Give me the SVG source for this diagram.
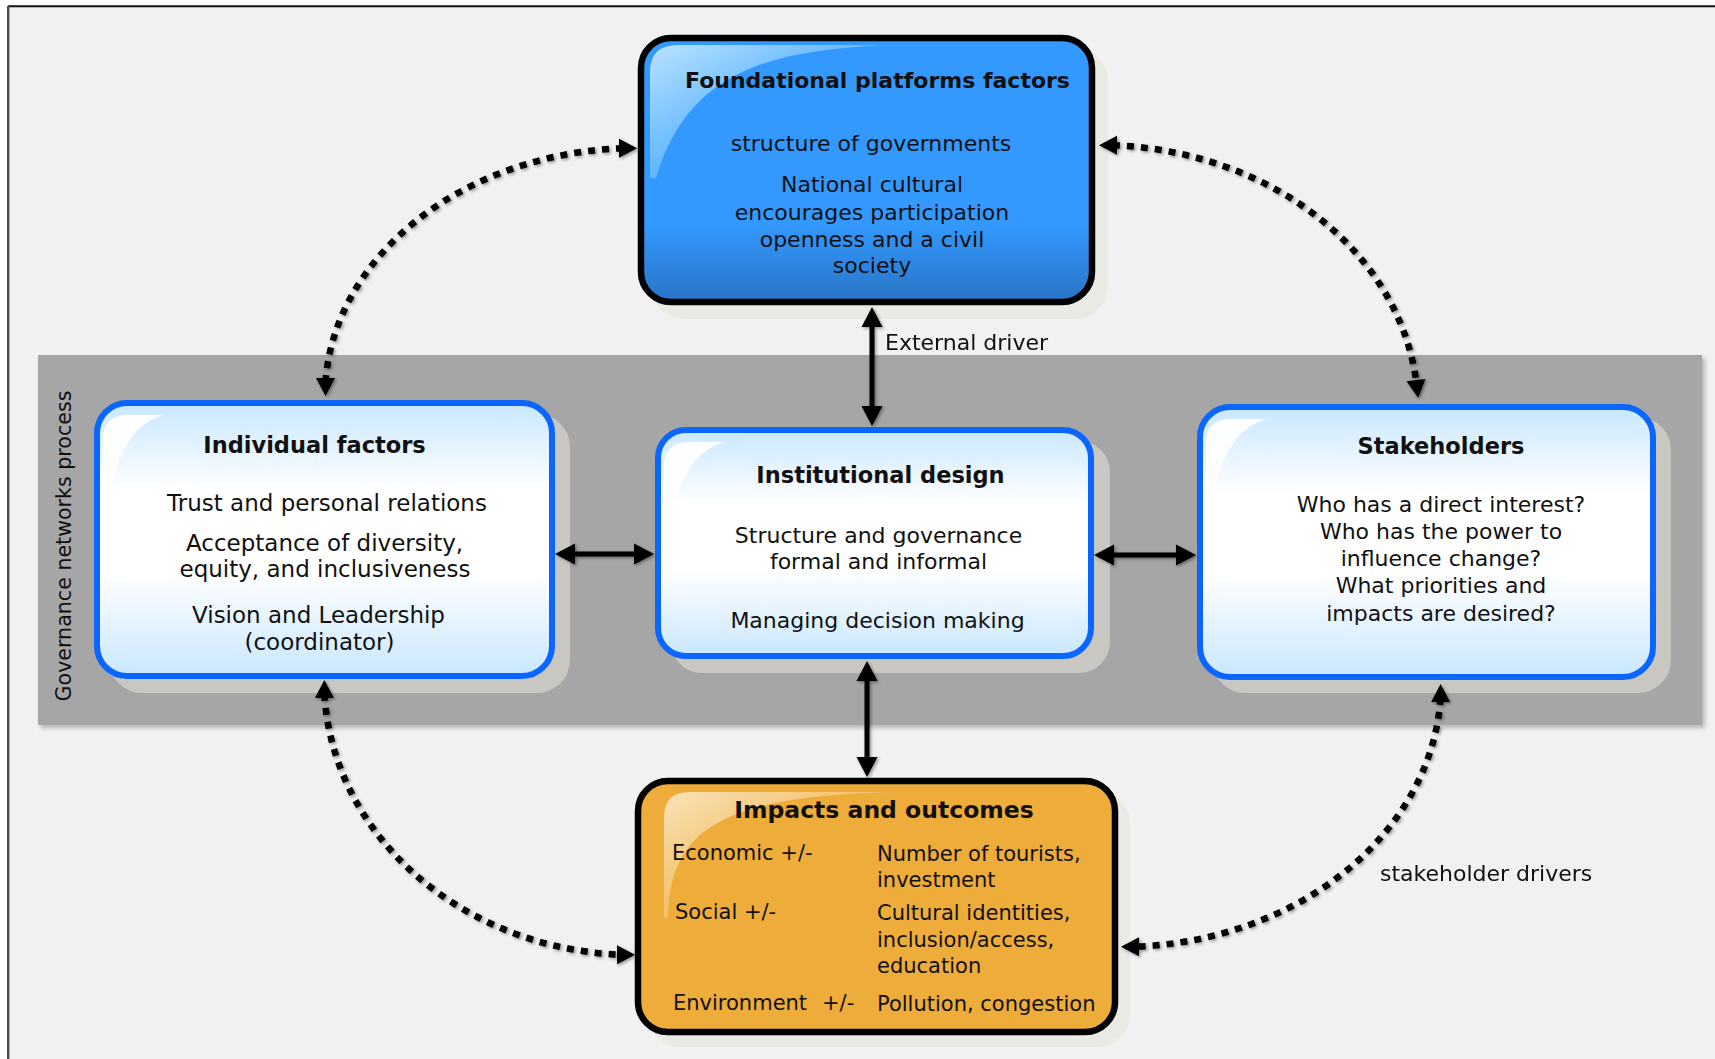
<svg xmlns="http://www.w3.org/2000/svg" xmlns:xlink="http://www.w3.org/1999/xlink" width="1715" height="1059" viewBox="0 0 1715 1059">
  <defs>
    <style>
      text { font-family: "DejaVu Sans", Verdana, sans-serif; fill: #111; }
      .body { font-size: 22px; text-anchor: middle; }
      .body23 { font-size: 23px; text-anchor: middle; }
      .title { font-size: 22.5px; font-weight: bold; text-anchor: middle; }
      .cell { font-size: 21px; }
      .label { font-size: 22px; }
      .blue { fill: url(#blueFill); stroke: #0a66ff; stroke-width: 6; }
      .shadow { fill: #c9c7c1; }
      .softShadow { fill: #eaeae5; }
      .dotted { fill: none; stroke: #000; stroke-width: 6.5; stroke-dasharray: 7 7; }
      .solid { fill: none; stroke: #000; stroke-width: 5; }
    </style>

    <!-- pale blue body of the process boxes: light at top and bottom, white in the middle -->
    <linearGradient id="blueFill" x1="0" y1="0" x2="0" y2="1">
      <stop offset="0" stop-color="#c9e7ff"/>
      <stop offset="0.32" stop-color="#ffffff"/>
      <stop offset="0.62" stop-color="#ffffff"/>
      <stop offset="1" stop-color="#c9e7ff"/>
    </linearGradient>
    <linearGradient id="topFill" x1="0" y1="0" x2="0" y2="1">
      <stop offset="0" stop-color="#3399ff"/>
      <stop offset="0.7" stop-color="#3399ff"/>
      <stop offset="1" stop-color="#2a74c6"/>
    </linearGradient>
    <linearGradient id="glossWhite" x1="0" y1="0" x2="0" y2="1">
      <stop offset="0" stop-color="#ffffff" stop-opacity="1"/>
      <stop offset="0.35" stop-color="#ffffff" stop-opacity="0.85"/>
      <stop offset="1" stop-color="#ffffff" stop-opacity="0"/>
    </linearGradient>
    <linearGradient id="glossBlue" x1="0" y1="0" x2="1" y2="1">
      <stop offset="0" stop-color="#c4e8ff" stop-opacity="0.95"/>
      <stop offset="0.6" stop-color="#6cc0ff" stop-opacity="0.6"/>
      <stop offset="1" stop-color="#3399ff" stop-opacity="0.2"/>
    </linearGradient>
    <linearGradient id="glossGold" x1="0" y1="0" x2="1" y2="1">
      <stop offset="0" stop-color="#fbe6c0" stop-opacity="0.95"/>
      <stop offset="0.6" stop-color="#f4c97c" stop-opacity="0.55"/>
      <stop offset="1" stop-color="#eeac3a" stop-opacity="0.1"/>
    </linearGradient>

    <!-- corner shine used on the pale blue boxes (relative to outer top-left corner) -->
    <path id="gloss" d="M9,135 L9,40 Q9,15 34,15 L70,15 C36,24 16,60 13,135 Z" fill="url(#glossWhite)"/>

    <!-- arrowheads, tip at the origin, pointing along +x -->
    <path id="dotTip" d="M0,0 L-18,-9.5 L-18,9.5 Z" fill="#000"/>
    <path id="solidTip" d="M0,0 L-20,-10.5 L-20,10.5 Z" fill="#000"/>

    <filter id="bandShadow" x="-5%" y="-5%" width="110%" height="110%">
      <feGaussianBlur stdDeviation="2"/>
    </filter>
    <filter id="lineShadow" x="-10%" y="-10%" width="120%" height="120%">
      <feDropShadow dx="1.5" dy="1.5" stdDeviation="1.5" flood-color="#000" flood-opacity="0.4"/>
    </filter>
  </defs>

  <!-- page and frame -->
  <rect x="0" y="0" width="1715" height="1059" fill="#ffffff"/>
  <rect x="8" y="6" width="1707" height="1053" fill="#f1f1f1"/>
  <line x1="8" y1="6.3" x2="1715" y2="6.3" stroke="#111" stroke-width="2"/>
  <line x1="8.2" y1="6" x2="8.2" y2="1059" stroke="#4d4d4d" stroke-width="2.4"/>

  <!-- governance networks process band -->
  <g id="governance-band">
    <rect x="41" y="358" width="1664" height="370" fill="#7a7a7a" opacity="0.5" filter="url(#bandShadow)"/>
    <rect x="38" y="355" width="1664" height="370" fill="#a6a6a6"/>
    <text transform="translate(71,546) rotate(-90)" text-anchor="middle" font-size="20.6" fill="#222">Governance networks process</text>
  </g>

  <!-- foundational platforms -->
  <g id="foundational-platforms">
    <rect class="softShadow" x="651" y="48" width="457" height="271" rx="33"/>
    <rect x="641" y="38" width="451" height="264" rx="30" fill="url(#topFill)" stroke="#000" stroke-width="6.5"/>
    <path d="M650,178 L650,72 Q650,45 678,45 L882,45 C780,52 690,64 656,178 Z" fill="url(#glossBlue)"/>
    <text class="title" x="877.5" y="88" style="font-size:22px">Foundational platforms factors</text>
    <text class="body" x="871" y="151">structure of governments</text>
    <text class="body" x="872" y="192">National cultural</text>
    <text class="body" x="872" y="220">encourages participation</text>
    <text class="body" x="872" y="247">openness and a civil</text>
    <text class="body" x="872" y="273">society</text>
  </g>

  <!-- individual factors -->
  <g id="individual-factors">
    <rect class="shadow" x="109" y="414" width="461" height="279" rx="33"/>
    <rect class="blue" x="97" y="403" width="455" height="273" rx="30"/>
    <use xlink:href="#gloss" href="#gloss" x="94" y="400"/>
    <text class="title" x="314.5" y="453">Individual factors</text>
    <text class="body23" x="327" y="511">Trust and personal relations</text>
    <text class="body23" x="324.5" y="551">Acceptance of diversity,</text>
    <text class="body23" x="325" y="577">equity, and inclusiveness</text>
    <text class="body23" x="318.5" y="623">Vision and Leadership</text>
    <text class="body23" x="319.5" y="650">(coordinator)</text>
  </g>

  <!-- institutional design -->
  <g id="institutional-design">
    <rect class="shadow" x="671" y="441" width="439" height="232" rx="31"/>
    <rect class="blue" x="658" y="430" width="433" height="226" rx="28"/>
    <use xlink:href="#gloss" href="#gloss" x="655" y="427"/>
    <text class="title" x="880.5" y="483">Institutional design</text>
    <text class="body" x="878.5" y="543">Structure and governance</text>
    <text class="body" x="878.5" y="569">formal and informal</text>
    <text class="body" x="877.5" y="628">Managing decision making</text>
  </g>

  <!-- stakeholders -->
  <g id="stakeholders">
    <rect class="shadow" x="1212" y="417" width="459" height="276" rx="33"/>
    <rect class="blue" x="1200" y="407" width="453" height="270" rx="30"/>
    <use xlink:href="#gloss" href="#gloss" x="1197" y="404"/>
    <text class="title" x="1441" y="454">Stakeholders</text>
    <text class="body" x="1441" y="512">Who has a direct interest?</text>
    <text class="body" x="1441" y="539">Who has the power to</text>
    <text class="body" x="1441" y="566">influence change?</text>
    <text class="body" x="1441" y="593">What priorities and</text>
    <text class="body" x="1441" y="621">impacts are desired?</text>
  </g>

  <!-- impacts and outcomes -->
  <g id="impacts-outcomes">
    <rect class="softShadow" x="647" y="790" width="483" height="257" rx="33"/>
    <rect x="638" y="781" width="477" height="251" rx="30" fill="#eeac3a" stroke="#000" stroke-width="6.5"/>
    <path d="M664,918 L664,817 Q664,792 690,792 L895,792 C720,796 670,830 668,918 Z" fill="url(#glossGold)"/>
    <text class="title" x="884" y="818" style="font-size:23.5px">Impacts and outcomes</text>
    <text class="cell" x="672" y="860">Economic +/-</text>
    <text class="cell" x="675" y="919">Social +/-</text>
    <text class="cell" x="673" y="1010">Environment<tspan x="822">+/-</tspan></text>
    <text class="cell" x="877" y="861">Number of tourists,</text>
    <text class="cell" x="877" y="887">investment</text>
    <text class="cell" x="877" y="920">Cultural identities,</text>
    <text class="cell" x="877" y="947">inclusion/access,</text>
    <text class="cell" x="877" y="973">education</text>
    <text class="cell" x="877" y="1011">Pollution, congestion</text>
  </g>

  <!-- connectors, drawn over the box shadows -->
  <g id="connectors" filter="url(#lineShadow)">
    <!-- foundational <-> individual -->
    <path class="dotted" d="M325.5,382 A312 248 0 0 1 623,148.25"/>
    <use xlink:href="#dotTip" href="#dotTip" transform="translate(325.5,396) rotate(90)"/>
    <use xlink:href="#dotTip" href="#dotTip" transform="translate(637,148.3)"/>
    <!-- foundational <-> stakeholders -->
    <path class="dotted" d="M1113,145.25 A319 265 0 0 1 1416.5,384"/>
    <use xlink:href="#dotTip" href="#dotTip" transform="translate(1099,145.2) rotate(180)"/>
    <use xlink:href="#dotTip" href="#dotTip" transform="translate(1418.2,397.9) rotate(83)"/>
    <!-- individual <-> impacts -->
    <path class="dotted" d="M324.4,694 A311 275 0 0 0 621,954.7"/>
    <use xlink:href="#dotTip" href="#dotTip" transform="translate(324.4,680) rotate(-90)"/>
    <use xlink:href="#dotTip" href="#dotTip" transform="translate(635,954.8)"/>
    <!-- stakeholders <-> impacts -->
    <path class="dotted" d="M1440.5,698 A320 263 0 0 1 1135,946.7"/>
    <use xlink:href="#dotTip" href="#dotTip" transform="translate(1440.6,684) rotate(-90)"/>
    <use xlink:href="#dotTip" href="#dotTip" transform="translate(1121,946.8) rotate(180)"/>

    <!-- external driver -->
    <path class="solid" d="M872,323 L872,410"/>
    <use xlink:href="#solidTip" href="#solidTip" transform="translate(872,307) rotate(-90)"/>
    <use xlink:href="#solidTip" href="#solidTip" transform="translate(872,426) rotate(90)"/>
    <!-- institutional <-> impacts -->
    <path class="solid" d="M867,677 L867,761"/>
    <use xlink:href="#solidTip" href="#solidTip" transform="translate(867,661) rotate(-90)"/>
    <use xlink:href="#solidTip" href="#solidTip" transform="translate(867,777) rotate(90)"/>
    <!-- individual <-> institutional -->
    <path class="solid" d="M571,554 L638,554"/>
    <use xlink:href="#solidTip" href="#solidTip" transform="translate(555,554) rotate(180)"/>
    <use xlink:href="#solidTip" href="#solidTip" transform="translate(654,554)"/>
    <!-- institutional <-> stakeholders -->
    <path class="solid" d="M1110,555 L1180,555"/>
    <use xlink:href="#solidTip" href="#solidTip" transform="translate(1094,555) rotate(180)"/>
    <use xlink:href="#solidTip" href="#solidTip" transform="translate(1196,555)"/>
  </g>
  <text class="label" x="885" y="350">External driver</text>
  <text class="label" x="1380" y="881">stakeholder drivers</text>
</svg>
